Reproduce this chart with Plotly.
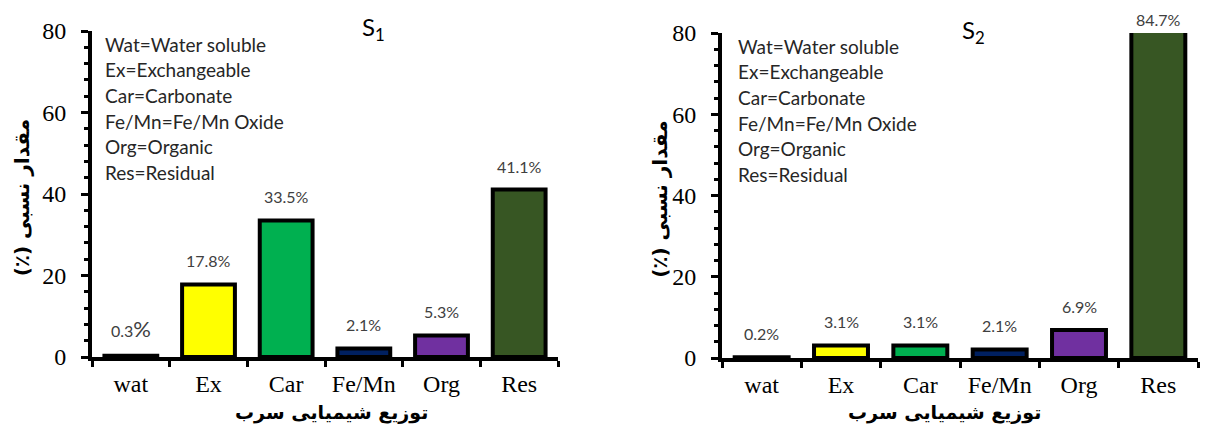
import plotly.graph_objects as go

categories = ["wat", "Ex", "Car", "Fe/Mn", "Org", "Res"]
s1_values = [0.3, 17.8, 33.5, 2.1, 5.3, 41.1]
s2_values = [0.2, 3.1, 3.1, 2.1, 6.9, 84.7]
s1_labels = ["0.3<span style='font-size:22px'>%</span>", "17.8%", "33.5%", "2.1%", "5.3%", "41.1%"]
s2_labels = ["0.2%", "3.1%", "3.1%", "2.1%", "6.9%", "84.7%"]
bar_colors = ["#FFFFFF", "#FFFF00", "#00B050", "#002060", "#7030A0", "#375623"]
legend_lines = ["Wat=Water soluble", "Ex=Exchangeable", "Car=Carbonate",
                "Fe/Mn=Fe/Mn Oxide", "Org=Organic", "Res=Residual"]
y_ticks = [0, 20, 40, 60, 80]
titles = ["S<sub>1</sub>", "S<sub>2</sub>"]
x_title = "توزیع شیمیایی سرب"
y_title = "\u200fمقدار نسبی (٪)\u200f"

W, H = 1211, 433
YMAX = 80

fig = go.Figure()

panels = [
    dict(vals=s1_values, labels=s1_labels, xd=[92 / W, 558 / W], yd=[1 - 357 / H, 1 - 31 / H],
         xa="x", ya="y", title=titles[0], ytx=22, legx=103 / W, tx=373, xtx=331),
    dict(vals=s2_values, labels=s2_labels, xd=[722 / W, 1198 / W], yd=[1 - 358 / H, 1 - 33 / H],
         xa="x2", ya="y2", title=titles[1], ytx=660, legx=736 / W, tx=973, xtx=944),
]

annotations = []
for i, p in enumerate(panels):
    fig.add_trace(go.Bar(
        x=categories, y=p["vals"], xaxis=p["xa"], yaxis=p["ya"],
        marker=dict(color=bar_colors, line=dict(color="black", width=4)),
        width=0.68, showlegend=False, hoverinfo="x+y",
    ))
    suffix = "" if i == 0 else "2"
    axis_common = dict(showline=True, linecolor="black", linewidth=4, mirror=False,
                       showgrid=False, zeroline=False, automargin=False)
    fig.update_layout(**{
        "xaxis" + suffix: dict(domain=p["xd"], anchor=p["ya"], type="category",
                               range=[-0.5, 5.5], tickson="boundaries", ticks="outside",
                               ticklen=6, tickwidth=3, tickcolor="black",
                               tickfont=dict(family="Liberation Serif", size=24, color="black"),
                               ticklabelstandoff=2, **axis_common),
        "yaxis" + suffix: dict(domain=p["yd"], anchor=p["xa"], range=[0, YMAX],
                               tickvals=y_ticks, ticks="outside", ticklen=7, tickwidth=3,
                               tickcolor="black",
                               minor=dict(dtick=4, ticks="outside", ticklen=4, tickwidth=3,
                                          tickcolor="black"),
                               tickfont=dict(family="Liberation Serif", size=24, color="black"),
                               ticklabelstandoff=10, **axis_common),
    })
    # value labels
    for c, v, lab in zip(categories, p["vals"], p["labels"]):
        annotations.append(dict(x=c, y=min(v, YMAX), xref=p["xa"], yref=p["ya"], text=lab,
                                showarrow=False, yanchor="bottom", xanchor="center",
                                yshift=12 if v <= YMAX else 2,
                                font=dict(family="Lato", size=16, color="#404040")))
    # legend text lines
    for k, line in enumerate(legend_lines):
        annotations.append(dict(x=p["legx"], y=p["yd"][1], xref="paper", yref="paper",
                                text=line, showarrow=False, xanchor="left", yanchor="middle",
                                yshift=-(13 + 25.7 * k),
                                font=dict(family="Lato", size=19, color="#262626")))
    # subplot title
    annotations.append(dict(x=p["tx"] / W, y=p["yd"][1], xref="paper", yref="paper",
                            text=p["title"], showarrow=False, xanchor="center",
                            yanchor="middle", yshift=2,
                            font=dict(family="Lato", size=24, color="black")))
    # x title
    annotations.append(dict(x=p["xtx"] / W, y=21 / H, xref="paper", yref="paper",
                            text="<b>" + x_title + "</b>", showarrow=False,
                            xanchor="center", yanchor="middle",
                            font=dict(family="DejaVu Sans", size=19, color="black")))
    # y title
    annotations.append(dict(x=p["ytx"] / W, y=(p["yd"][0] + p["yd"][1]) / 2 - 0.01,
                            xref="paper", yref="paper", text="<b>" + y_title + "</b>",
                            showarrow=False, textangle=-90, xanchor="center",
                            yanchor="middle",
                            font=dict(family="DejaVu Sans", size=20, color="black")))

fig.update_layout(
    width=W, height=H, margin=dict(l=0, r=0, t=0, b=0, autoexpand=False),
    paper_bgcolor="white", plot_bgcolor="white",
    annotations=annotations, bargap=0.32,
)

fig.write_html("out.html", config={"displayModeBar": False},
               post_script="document.body.style.margin='0px';")
